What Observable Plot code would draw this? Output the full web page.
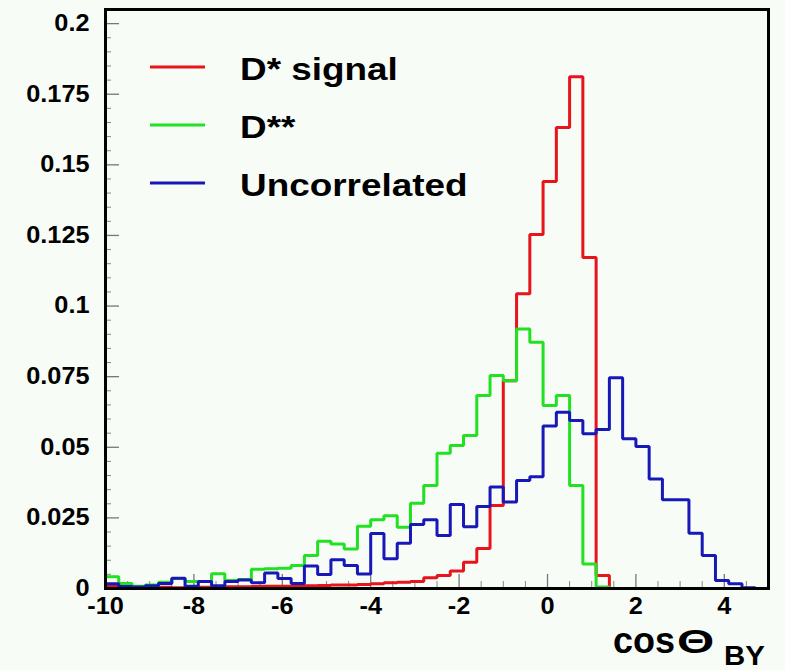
<!DOCTYPE html>
<html>
<head>
<meta charset="utf-8">
<script src="https://cdn.jsdelivr.net/npm/d3@7"></script>
<script src="https://cdn.jsdelivr.net/npm/@observablehq/plot@0.6"></script>
<style>
  html, body { margin: 0; padding: 0; background: #f7fcf7; }
  #chart { width: 785px; height: 670px; }
</style>
</head>
<body>
<div id="chart"></div>
<script>
// Histogram binning: 50 bins of width 0.3 covering [-10, 5]
const binStart = -10;
const binWidth = 0.3;

// Normalised bin contents for each sample
const dstarSignal = [
  0.0008, 0.0004, 0.0003, 0.0003, 0.0004, 0.0003, 0.0005, 0.0004, 0.0005, 0.0006,
  0.0006, 0.0007, 0.0008, 0.0008, 0.0010, 0.0010, 0.0011, 0.0012, 0.0012, 0.0014,
  0.0017, 0.0020, 0.0022, 0.0025, 0.0038, 0.0046, 0.0062, 0.0093, 0.0142, 0.0294,
  0.0736, 0.1044, 0.1253, 0.1441, 0.1632, 0.1812, 0.1172, 0.0046, 0, 0,
  0, 0, 0, 0, 0, 0, 0, 0, 0, 0
];
const dstarstar = [
  0.0042, 0.0018, 0.0008, 0.0012, 0.0022, 0.0035, 0.0025, 0.0025, 0.0052, 0.0028,
  0.0032, 0.0068, 0.0070, 0.0072, 0.0081, 0.0117, 0.0167, 0.0158, 0.0140, 0.0220,
  0.0243, 0.0258, 0.0217, 0.0302, 0.0365, 0.0479, 0.0506, 0.0542, 0.0683, 0.0754,
  0.0736, 0.0919, 0.0872, 0.0648, 0.0683, 0.0365, 0.0087, 0.0005, 0, 0,
  0, 0, 0, 0, 0, 0, 0, 0, 0, 0
];
const uncorrelated = [
  0.0017, 0.0007, 0.0005, 0.0010, 0.0018, 0.0036, 0.0008, 0.0025, 0.0010, 0.0025,
  0.0030, 0.0020, 0.0055, 0.0035, 0.0018, 0.0080, 0.0050, 0.0102, 0.0081, 0.0051,
  0.0195, 0.0105, 0.0160, 0.0227, 0.0243, 0.0188, 0.0297, 0.0219, 0.0290, 0.0359,
  0.0306, 0.0382, 0.0396, 0.0575, 0.0624, 0.0595, 0.0548, 0.0563, 0.0746, 0.0530,
  0.0503, 0.0388, 0.0314, 0.0314, 0.0196, 0.0117, 0.0028, 0.0017, 0.0003, 0
];

const seriesNames = ["D* signal", "D**", "Uncorrelated"];
const seriesValues = [dstarSignal, dstarstar, uncorrelated];
const seriesColors = ["#e8141c", "#22e022", "#1818b8"];

const xTickLabels = [-10, -8, -6, -4, -2, 0, 2, 4];
const yTickLabels = [0, 0.025, 0.05, 0.075, 0.1, 0.125, 0.15, 0.175, 0.2];
const xMinorStep = 0.5;
const yMinorStep = 0.005;

// Layout
const W = 785, H = 670;
const mL = 105, mR = 17, mT = 9, mB = 82;
const frameW = W - mL - mR;
const frameH = H - mT - mB;
const font = "'Liberation Sans', Arial, Helvetica, sans-serif";

// Step-outline points: one per bin left edge plus the closing right edge
function stepPoints(values) {
  const pts = values.map((v, i) => ({x: +(binStart + i * binWidth).toFixed(3), y: v}));
  pts.push({x: +(binStart + values.length * binWidth).toFixed(3), y: values[values.length - 1]});
  return pts;
}

const xMinor = d3.range(-10, 5.0001, xMinorStep).map(d => +d.toFixed(3)).filter(d => !xTickLabels.includes(d));
const yMinor = d3.range(0, 0.2051, yMinorStep).map(d => +d.toFixed(4)).filter(d => !yTickLabels.includes(d));

const chart = Plot.plot({
  width: W,
  height: H,
  marginLeft: mL,
  marginRight: mR,
  marginTop: mT,
  marginBottom: mB,
  style: {background: "#f7fcf7", fontFamily: font, color: "#000"},
  x: {domain: [-10, 5], axis: null},
  y: {domain: [0, 0.205], axis: null},
  marks: [
    // inward tick marks
    Plot.tickY(yMinor, {y: d => d, insetRight: frameW - 6, stroke: "#888", strokeWidth: 1}),
    Plot.tickY(yTickLabels, {y: d => d, insetRight: frameW - 14, stroke: "#777", strokeWidth: 1.3}),
    Plot.tickX(xMinor, {x: d => d, insetTop: frameH - 7, stroke: "#888", strokeWidth: 1}),
    Plot.tickX(xTickLabels, {x: d => d, insetTop: frameH - 14, stroke: "#777", strokeWidth: 1.3}),
    // histograms, drawn in legend order
    ...seriesValues.map((vals, k) =>
      Plot.line(stepPoints(vals), {
        x: "x", y: "y", curve: "step-after",
        stroke: seriesColors[k], strokeWidth: 3, strokeLinejoin: "miter"
      })
    ),
    Plot.frame({stroke: "#000", strokeWidth: 3}),
    Plot.axisY(yTickLabels, {
      tickSize: 0, tickPadding: 16, label: null,
      fontSize: 23, fontWeight: "bold", tickFormat: d => String(d)
    }),
    Plot.axisX(xTickLabels, {
      tickSize: 0, tickPadding: 9, label: null,
      fontSize: 23, fontWeight: "bold", tickFormat: d => String(d)
    })
  ]
});

// Widen a text element horizontally about its own anchor point
function stretch(el, sx) {
  const t = el.getAttribute("transform") || "";
  const x = +el.getAttribute("x") || 0;
  const y = +el.getAttribute("y") || 0;
  el.setAttribute("transform", `${t} translate(${x},${y}) scale(${sx},1) translate(${-x},${-y})`);
}

const svg = d3.select(chart);
svg.selectAll("g[aria-label='y-axis tick label'] text, g[aria-label='x-axis tick label'] text")
  .each(function() { stretch(this, 1.1); });

// Legend inside the frame, top left
const legend = svg.append("g")
  .attr("font-family", font).attr("font-weight", "bold").attr("text-anchor", "start");
seriesNames.forEach((name, i) => {
  const cy = 67 + i * 58;
  legend.append("line")
    .attr("x1", 150).attr("x2", 205)
    .attr("y1", cy).attr("y2", cy)
    .attr("stroke", seriesColors[i]).attr("stroke-width", 3);
  const t = legend.append("text")
    .attr("x", 240).attr("y", cy + 13)
    .attr("font-size", 31).attr("fill", "#000")
    .text(name);
  stretch(t.node(), 1.19);
});

// Axis title: cos Theta with subscript BY
const title = svg.append("g")
  .attr("font-family", font).attr("font-weight", "bold").attr("fill", "#000").attr("text-anchor", "start");
title.append("text").attr("x", 613).attr("y", 653).attr("font-size", 36).text("cos");
const theta = title.append("text").attr("x", 677).attr("y", 653).attr("font-size", 33).text("Θ");
stretch(theta.node(), 1.45);
const sub = title.append("text").attr("x", 724).attr("y", 665).attr("font-size", 28).text("BY");
stretch(sub.node(), 1.05);

document.getElementById("chart").appendChild(chart);
</script>
</body>
</html>
